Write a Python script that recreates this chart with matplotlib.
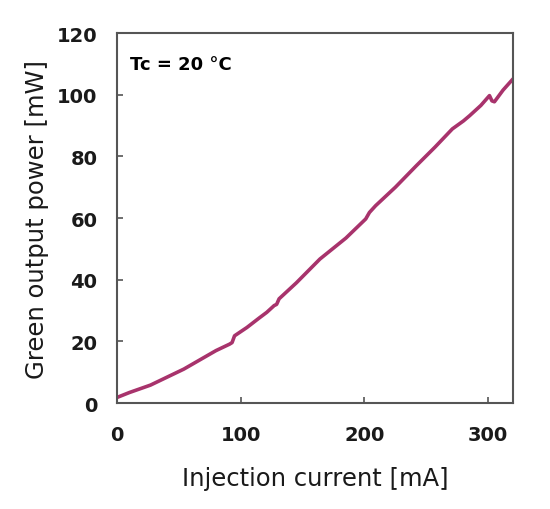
"""Green output power vs injection current at Tc = 20 C."""
import matplotlib.pyplot as plt

# Data
current_ma = [0, 10, 27, 54, 80, 91, 93, 95, 105, 115, 121, 127, 129, 131,
              145, 164, 185, 201, 204, 209, 225, 242, 257, 271, 280, 285,
              294, 301, 303, 305, 312, 320]
power_mw = [1.8, 3.4, 5.8, 11.0, 17.0, 19.1, 19.6, 21.8, 24.5, 27.6, 29.4,
            31.6, 32.0, 33.8, 39.0, 46.7, 53.5, 59.7, 61.8, 64.0, 70.0, 77.0,
            83.0, 88.9, 91.5, 93.2, 96.5, 99.7, 98.0, 97.7, 101.5, 105.1]

x_ticks = [0, 100, 200, 300]
y_ticks = [0, 20, 40, 60, 80, 100, 120]

plt.rcParams['font.family'] = ['DejaVu Sans']

fig = plt.figure(figsize=(5.5, 5.1), dpi=100)
ax = fig.add_axes([0.2127, 0.2078, 0.72, 0.7255])

ax.plot(current_ma, power_mw, color='#a8336c', linewidth=2.6,
        solid_capstyle='round', solid_joinstyle='round')

ax.set_xlim(0, 320)
ax.set_ylim(0, 120)
ax.set_xticks(x_ticks)
ax.set_yticks(y_ticks)
ax.tick_params(direction='in', length=4, width=1.2, color='#555555',
               labelsize=14, pad=16)
ax.tick_params(axis='y', pad=14)
for lbl in ax.get_xticklabels() + ax.get_yticklabels():
    lbl.set_fontweight('bold')
    lbl.set_color('#1a1a1a')

for spine in ax.spines.values():
    spine.set_color('#555555')
    spine.set_linewidth(1.5)

ax.set_xlabel('Injection current [mA]', fontsize=17.5, labelpad=16,
              color='#1a1a1a')
ax.set_ylabel('Green output power [mW]', fontsize=17.5, labelpad=6,
              color='#1a1a1a')

ax.text(0.033, 0.916, 'Tc = 20 \u00b0C', transform=ax.transAxes,
        fontsize=13, fontweight='bold', va='center', ha='left')

fig.savefig('out.png', dpi=100)
